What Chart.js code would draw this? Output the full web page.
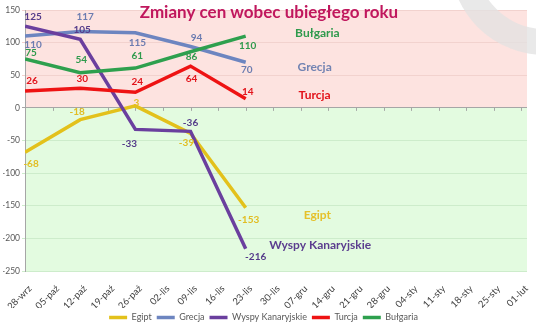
<!DOCTYPE html>
<html>
<head>
<meta charset="utf-8">
<script src="https://cdn.jsdelivr.net/npm/chart.js@4/dist/chart.umd.min.js"></script>
<style>
  html, body { margin: 0; padding: 0; background: #fff; }
  #wrap { width: 536px; height: 332px; position: relative; }
</style>
</head>
<body>
<div id="wrap"><canvas id="chart"></canvas></div>
<script>
// Tygodnie na osi X
const weeks = ['28-wrz', '05-paź', '12-paź', '19-paź', '26-paź', '02-lis', '09-lis', '16-lis', '23-lis', '30-lis',
  '07-gru', '14-gru', '21-gru', '28-gru', '04-sty', '11-sty', '18-sty', '25-sty', '01-lut'];
// Tygodnie, dla których są pomiary
const pointWeeks = ['28-wrz', '12-paź', '26-paź', '09-lis', '23-lis'];

const egipt = [-68, -18, 3, -39, -153];
const grecja = [110, 117, 115, 94, 70];
const wyspy = [125, 105, -33, -36, -216];
const turcja = [26, 30, 24, 64, 14];
const bulgaria = [75, 54, 61, 86, 110];

const yTicks = [150, 100, 50, 0, -50, -100, -150, -200, -250];

const FONT = 'Lato, "Open Sans", sans-serif';

// kolory + przesunięcia etykiet wartości (px)
const series = [
  { label: 'Egipt', data: egipt, line: '#e3c11b', text: '#e2bd22', order: 5,
    offs: [[6, 12], [-3, -8], [1, -3], [-4, 9], [3, 12]] },
  { label: 'Grecja', data: grecja, line: '#6d85c0', text: '#6c7cb0', order: 4,
    offs: [[8, 9], [5, -15], [2, 10], [6, -9], [1, 8]] },
  { label: 'Wyspy Kanaryjskie', data: wyspy, line: '#6a3f9e', text: '#553b8a', order: 3,
    offs: [[8, -10], [2, -10], [-6, 14], [0, -9], [10, 8]] },
  { label: 'Turcja', data: turcja, line: '#ee1313', text: '#e2141b', order: 2,
    offs: [[7, -10], [2, -10], [2, -10], [1, 13], [2, -7]] },
  { label: 'Bułgaria', data: bulgaria, line: '#2ea04e', text: '#2f9a4c', order: 1,
    offs: [[6, -6], [1, -13], [2, -12], [1, 5], [2, 10]] }
];

// podpisy serii na wykresie (w jednostkach osi)
const seriesNames = [
  { text: 'Bułgaria', x: 10.6, y: 115, color: '#2f9a4c' },
  { text: 'Grecja', x: 10.5, y: 63, color: '#7384b2' },
  { text: 'Turcja', x: 10.5, y: 20, color: '#e2141b' },
  { text: 'Egipt', x: 10.6, y: -165, color: '#e5c12a' },
  { text: 'Wyspy Kanaryjskie', x: 10.7, y: -211, color: '#5b3d8e' }
];

const decor = {
  id: 'decor',
  beforeDraw(chart) {
    const { ctx, chartArea: a, scales: { y } } = chart;
    const y0 = y.getPixelForValue(0);
    ctx.save();
    ctx.fillStyle = '#fde3e0';
    ctx.fillRect(a.left, a.top, a.right - a.left, y0 - a.top);
    ctx.fillStyle = '#e3fbe0';
    ctx.fillRect(a.left, y0, a.right - a.left, a.bottom - y0);
    ctx.restore();
  },
  beforeDatasetsDraw(chart) {
    const { ctx, scales: { x, y } } = chart;
    const y0 = y.getPixelForValue(0);
    ctx.save();
    // znak wodny
    ctx.strokeStyle = 'rgba(225,225,225,0.75)';
    ctx.lineWidth = 26;
    ctx.beginPath();
    ctx.arc(545, -40, 82, 0, Math.PI * 2);
    ctx.stroke();
    // znaczniki na osi 0
    ctx.strokeStyle = '#a6a6a6';
    ctx.lineWidth = 1;
    for (let i = 0; i < weeks.length; i++) {
      const px = Math.round(x.getPixelForValue(i)) + 0.5;
      ctx.beginPath();
      ctx.moveTo(px, y0);
      ctx.lineTo(px, y0 + 3);
      ctx.stroke();
    }
    ctx.restore();
  },
  afterDatasetsDraw(chart) {
    const { ctx, scales: { x, y } } = chart;
    ctx.save();
    ctx.textAlign = 'center';
    ctx.textBaseline = 'middle';
    ctx.font = 'bold 10px ' + FONT;
    series.forEach((s, di) => {
      const meta = chart.getDatasetMeta(di);
      meta.data.forEach((pt, i) => {
        ctx.fillStyle = s.text;
        ctx.fillText(String(s.data[i]), pt.x + s.offs[i][0], pt.y + s.offs[i][1]);
      });
    });
    ctx.font = 'bold 12px ' + FONT;
    seriesNames.forEach(n => {
      ctx.fillStyle = n.color;
      ctx.fillText(n.text, x.getPixelForValue(n.x), y.getPixelForValue(n.y));
    });
    ctx.font = 'bold 17px ' + FONT;
    ctx.fillStyle = '#c0175d';
    ctx.fillText('Zmiany cen wobec ubiegłego roku', 269, 13);
    ctx.restore();
  }
};

new Chart(document.getElementById('chart'), {
  type: 'line',
  data: {
    datasets: series.map(s => ({
      label: s.label,
      data: s.data.map((v, i) => ({ x: weeks.indexOf(pointWeeks[i]), y: v })),
      borderColor: s.line,
      backgroundColor: s.line,
      borderWidth: 3.5,
      pointRadius: 0,
      tension: 0,
      order: s.order
    }))
  },
  options: {
    responsive: true,
    maintainAspectRatio: false,
    animation: false,
    layout: { padding: { top: 10, right: 9, left: 0, bottom: 0 } },
    plugins: {
      legend: {
        position: 'bottom',
        labels: {
          usePointStyle: true,
          pointStyle: 'line',
          pointStyleWidth: 18,
          padding: 5,
          color: '#595959',
          font: { family: FONT, size: 9 },
          sort: (a, b) => a.datasetIndex - b.datasetIndex
        }
      },
      tooltip: { enabled: false }
    },
    scales: {
      x: {
        type: 'linear',
        min: 0,
        max: 18.2,
        afterFit: sc => { sc.height = 37; },
        grid: { display: false },
        border: { display: false },
        ticks: {
          stepSize: 1,
          autoSkip: false,
          includeBounds: false,
          maxTicksLimit: 40,
          minRotation: 45,
          maxRotation: 45,
          padding: 4,
          labelOffset: 5,
          color: '#404040',
          font: { family: FONT, size: 9.5 },
          callback: v => weeks[v] ?? ''
        }
      },
      y: {
        min: Math.min(...yTicks),
        max: Math.max(...yTicks),
        afterFit: sc => { sc.width = 22; },
        border: { display: true, color: '#a6a6a6' },
        grid: {
          tickLength: 3,
          color: c => c.tick.value === 0 ? '#a6a6a6' : (c.tick.value > 0 ? '#f2d2ce' : '#cdeccb'),
          lineWidth: 1
        },
        ticks: {
          stepSize: 50,
          padding: 2,
          color: '#595959',
          font: { family: FONT, size: 8.5 }
        }
      }
    }
  },
  plugins: [decor]
});
</script>
</body>
</html>
